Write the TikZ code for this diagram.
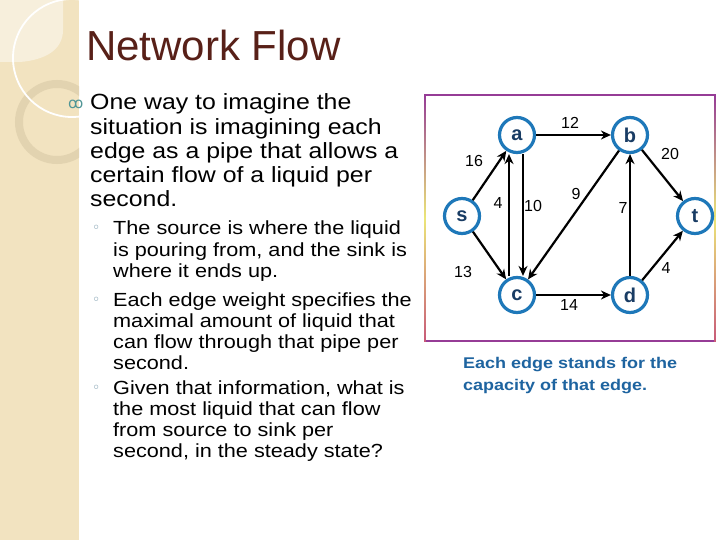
\documentclass[tikz,border=0pt]{standalone}
\usepackage{fontspec}
\setmainfont{Liberation Sans}
\newfontfamily\bodyfont[FakeStretch=1.13]{Liberation Sans}
\newfontfamily\subfont[FakeStretch=1.14]{Liberation Sans}
\newfontfamily\capfont[FakeStretch=1.16]{Liberation Sans}
\newfontfamily\symfont{DejaVu Sans}
\usetikzlibrary{arrows.meta}
\definecolor{stripecol}{RGB}{242, 227, 192}
\definecolor{stripelight}{RGB}{247, 239, 220}
\definecolor{ringcol}{RGB}{226, 211, 176}
\definecolor{titlecol}{RGB}{88, 32, 24}
\definecolor{bulletcol}{RGB}{80, 150, 150}
\definecolor{subbullet}{RGB}{110, 145, 165}
\definecolor{nodeblue}{RGB}{30, 120, 185}
\definecolor{nodetext}{RGB}{25, 60, 100}
\definecolor{capblue}{RGB}{30, 100, 160}
\definecolor{boxpurple}{RGB}{150, 60, 150}
\definecolor{boxyellow}{RGB}{235, 230, 120}
\definecolor{boxpink}{RGB}{200, 90, 120}

\begin{document}
\begin{tikzpicture}[x=1pt, y=-1pt,
    vertice/.style={circle, draw=nodeblue, line width=3.2pt, fill=white, minimum size=35pt, inner sep=0pt,
        font=\bfseries\fontsize{20}{20}\selectfont, text=nodetext},
    arco/.style={-{Stealth[length=10pt,width=9pt]}, line width=2.2pt},
    peso/.style={inner sep=0pt, font=\fontsize{16}{16}\selectfont}]
    \useasboundingbox (0,0) rectangle (720,540);

    % Sfondo
    \fill[white] (0,0) rectangle (720,540);
    \begin{scope}
        \clip (0,0) rectangle (79,540);
        \fill[stripecol] (0,0) rectangle (79,540);
        \fill[stripelight] (0,0) -- (63,0) -- (63,30) .. controls (63,50) and (45,60) .. (20,62) -- (0,62) -- cycle;
        \draw[ringcol, line width=8pt] (57,122) circle (38);
        \draw[white, line width=1.8pt] (72,58) circle (59);
    \end{scope}

    % Titolo e testo (ancora sull'ultima riga)
    \node[anchor=base west, inner sep=0pt, text=titlecol, font=\fontsize{42}{42}\selectfont] (titolo) at (86,61) {Network Flow};
    \node[anchor=base west, inner sep=0pt, text=bulletcol, font=\symfont\fontsize{15}{15}\selectfont] (punto) at (68,109) {ꝏ};
    \node[anchor=base west, inner sep=0pt, align=left, font=\bodyfont\fontsize{22}{24.25}\selectfont] (testo) at (90,207)
        {One way to imagine the\\ situation is imagining each\\ edge as a pipe that allows a\\ certain flow of a liquid per\\ second.};

    \node[anchor=base west, inner sep=0pt, text=subbullet, font=\symfont\fontsize{14}{14}\selectfont] (p1) at (92,233) {◦};
    \node[anchor=base west, inner sep=0pt, align=left, font=\subfont\fontsize{19}{21.2}\selectfont] (sorgente) at (113,277.4)
        {The source is where the liquid\\ is pouring from, and the sink is\\ where it ends up.};
    \node[anchor=base west, inner sep=0pt, text=subbullet, font=\symfont\fontsize{14}{14}\selectfont] (p2) at (92,304) {◦};
    \node[anchor=base west, inner sep=0pt, align=left, font=\subfont\fontsize{19}{21.2}\selectfont] (peso) at (113,369.6)
        {Each edge weight specifies the\\ maximal amount of liquid that\\ can flow through that pipe per\\ second.};
    \node[anchor=base west, inner sep=0pt, text=subbullet, font=\symfont\fontsize{14}{14}\selectfont] (p3) at (92,392) {◦};
    \node[anchor=base west, inner sep=0pt, align=left, font=\subfont\fontsize{19}{21.2}\selectfont] (domanda) at (113,457.6)
        {Given that information, what is\\ the most liquid that can flow\\ from source to sink per\\ second, in the steady state?};

    % Cornice del grafo
    \draw[boxpurple, line width=1.6pt] (425,95) -- (715,95);
    \draw[boxpurple, line width=1.6pt] (425,341) -- (715,341);
    \shade[top color=boxpurple, bottom color=boxpink, middle color=boxyellow] (424.2,95) rectangle (425.8,341);
    \shade[top color=boxpurple, bottom color=boxpink, middle color=boxyellow] (714.2,95) rectangle (715.8,341);

    % Vertici
    \node[vertice] (s) at (462,216) {s};
    \node[vertice] (a) at (517,135) {a};
    \node[vertice] (b) at (630,135) {b};
    \node[vertice] (c) at (517,295) {c};
    \node[vertice] (d) at (630,295) {d};
    \node[vertice] (t) at (695,216) {t};

    % Archi
    \draw[arco] (s) -- (a);
    \draw[arco] (s) -- (c);
    \draw[arco] ([xshift=6pt]a.south) -- ([xshift=6pt]c.north);
    \draw[arco] ([xshift=-8pt]c.north) -- ([xshift=-8pt]a.south);
    \draw[arco] (a) -- (b);
    \draw[arco] (b) -- (c);
    \draw[arco] (d) -- (b);
    \draw[arco] (b) -- (t);
    \draw[arco] (c) -- (d);
    \draw[arco] (d) -- (t);

    % Capacita
    \node[peso] (w12) at (570,123) {12};
    \node[peso] (w20) at (670,154) {20};
    \node[peso] (w16) at (474,161) {16};
    \node[peso] (w4a) at (498,203) {4};
    \node[peso] (w10) at (533,206) {10};
    \node[peso] (w9) at (576,194) {9};
    \node[peso] (w7) at (623,208) {7};
    \node[peso] (w13) at (463,272) {13};
    \node[peso] (w4b) at (666,268) {4};
    \node[peso] (w14) at (569,305) {14};

    % Didascalia
    \node[anchor=base west, inner sep=0pt, align=left, text=capblue, font=\capfont\bfseries\fontsize{15.5}{22}\selectfont] (nota) at (463,390)
        {Each edge stands for the\\ capacity of that edge.};
\end{tikzpicture}
\end{document}
